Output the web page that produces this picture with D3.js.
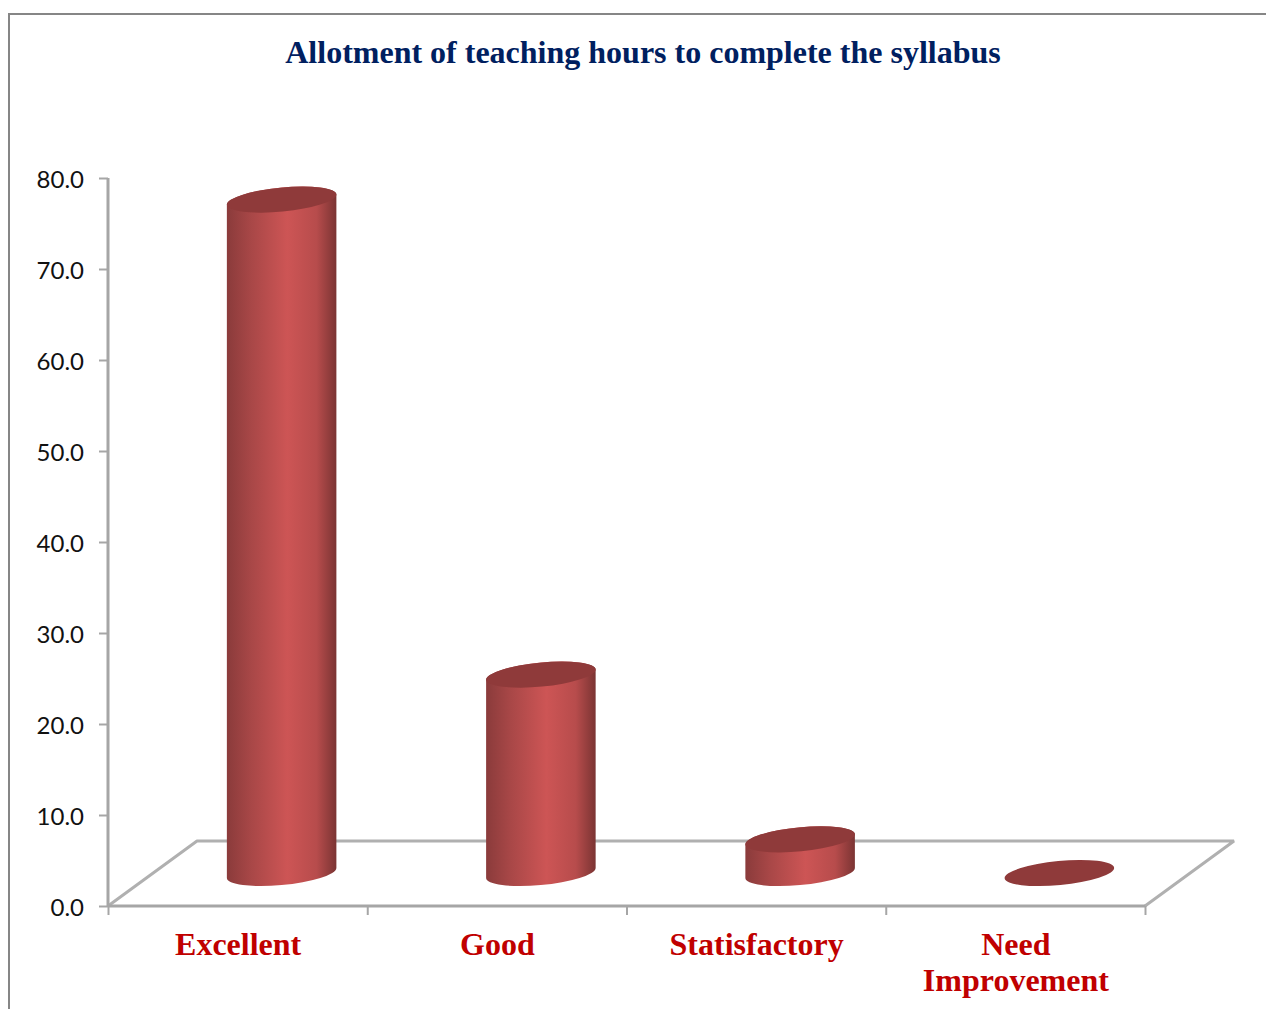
<!DOCTYPE html>
<html>
<head>
<meta charset="utf-8">
<script src="https://cdn.jsdelivr.net/npm/d3@7"></script>
<style>
  html, body { margin: 0; padding: 0; background: #fff; overflow: hidden; }
  svg { display: block; }
</style>
</head>
<body>
<div id="chart"></div>
<script>
const width = 1266;
const height = 1009;

// data
const categories = ["Excellent", "Good", "Statisfactory", "Need Improvement"];
const values = [74.0, 21.8, 3.7, 0];
const yTicks = [0, 10, 20, 30, 40, 50, 60, 70, 80];

// plot box + 3d floor offset
const plotLeft = 108, plotRight = 1145, plotTop = 178, plotBottom = 906;
const depthX = 89, depthY = 65;
const barShiftX = 44, barShiftY = 33;

// cylinder ellipse, edgeX/edgeY = where the sides touch it
const rx = 55, ry = 12, tilt = -5.5;
const rad = tilt * Math.PI / 180;
const edgeX = Math.sqrt(rx * rx * Math.cos(rad) ** 2 + ry * ry * Math.sin(rad) ** 2);
const edgeY = (rx * rx - ry * ry) * Math.sin(-rad) * Math.cos(rad) / edgeX;

const svg = d3.select("#chart")
    .append("svg")
    .attr("width", width)
    .attr("height", height)
    .attr("viewBox", `0 0 ${width} ${height}`);

const y = d3.scaleLinear().domain([0, 80]).range([plotBottom, plotTop]);
const x = d3.scaleBand().domain(categories).range([plotLeft, plotRight]);
const xEdges = d3.scaleLinear().domain([0, categories.length]).range([plotLeft, plotRight]);

// gradient of the cylinder side
const grad = svg.append("defs").append("linearGradient")
    .attr("id", "side")
    .attr("x1", "0%").attr("x2", "100%")
    .attr("y1", "0%").attr("y2", "0%");
[["0%", "#8a3b3b"], ["22%", "#a84747"], ["55%", "#cd5555"], ["82%", "#b74c4c"], ["100%", "#7b3433"]]
    .forEach(s => grad.append("stop").attr("offset", s[0]).attr("stop-color", s[1]));

// outer frame, cut by the page edge
svg.append("path")
    .attr("d", `M9,${height} V14 H${width}`)
    .attr("fill", "none")
    .attr("stroke", "#868686")
    .attr("stroke-width", 2);

// title
svg.append("text")
    .attr("x", 643)
    .attr("y", 63)
    .attr("text-anchor", "middle")
    .attr("font-family", "'Liberation Serif', serif")
    .attr("font-weight", "bold")
    .attr("font-size", 32)
    .attr("fill", "#002060")
    .text("Allotment of teaching hours to complete the syllabus");

// floor
svg.append("path")
    .attr("d", `M${plotLeft},${plotBottom} L${plotLeft + depthX},${plotBottom - depthY} H${plotRight + depthX} L${plotRight},${plotBottom}`)
    .attr("fill", "none")
    .attr("stroke", "#b0b0b0")
    .attr("stroke-width", 3)
    .attr("stroke-linejoin", "bevel");

// y axis
const yAxis = svg.append("g")
    .attr("transform", `translate(${plotLeft},0)`)
    .call(d3.axisLeft(y).tickValues(yTicks).tickFormat(d3.format(".1f")).tickSize(9).tickPadding(15));
yAxis.selectAll("text")
    .attr("font-family", "Lato, sans-serif")
    .attr("font-size", 24)
    .attr("fill", "#111")
    .attr("y", 2);

// x axis, ticks on the band edges
const xAxis = svg.append("g")
    .attr("transform", `translate(0,${plotBottom})`)
    .call(d3.axisBottom(xEdges).ticks(categories.length).tickFormat("").tickSize(9));

[yAxis, xAxis].forEach(g => {
    g.selectAll("line").attr("stroke", "#a6a6a6").attr("stroke-width", 2);
});
yAxis.select("path").attr("d", `M0,${plotTop}V${plotBottom}`).attr("stroke", "#a6a6a6").attr("stroke-width", 3);
xAxis.select("path").attr("d", `M${plotLeft},0H${plotRight}`).attr("stroke", "#a6a6a6").attr("stroke-width", 3);

// category labels
const labels = svg.selectAll(".label")
    .data(categories)
    .enter()
    .append("text")
    .attr("class", "label")
    .attr("text-anchor", "middle")
    .attr("font-family", "'Liberation Serif', serif")
    .attr("font-weight", "bold")
    .attr("font-size", 32)
    .attr("fill", "#c00000")
    .attr("y", 955);

labels.each(function(d) {
    const text = d3.select(this);
    d.split(" ").forEach((word, i) => {
        text.append("tspan")
            .attr("x", x(d) + x.bandwidth() / 2 + 0.5)
            .attr("dy", i ? 36 : 0)
            .text(word);
    });
});

// cylinders
const bars = svg.selectAll(".bar")
    .data(categories.map((c, i) => ({ name: c, value: values[i] })))
    .enter()
    .append("g")
    .attr("class", "bar")
    .attr("transform", d => `translate(${x(d.name) + x.bandwidth() / 2 + barShiftX},0)`);

bars.filter(d => d.value > 0)
    .append("path")
    .attr("fill", "url(#side)")
    .attr("d", d => {
        const yTop = y(d.value) - barShiftY;
        const yBase = y(0) - barShiftY;
        return `M${-edgeX},${yTop + edgeY} L${-edgeX},${yBase + edgeY}` +
            ` A${rx},${ry} ${tilt} 0 0 ${edgeX},${yBase - edgeY}` +
            ` L${edgeX},${yTop - edgeY}` +
            ` A${rx},${ry} ${tilt} 0 0 ${-edgeX},${yTop + edgeY} Z`;
    });

bars.append("ellipse")
    .attr("rx", rx)
    .attr("ry", ry)
    .attr("fill", "#8f3a3a")
    .attr("transform", d => `translate(0,${y(d.value) - barShiftY}) rotate(${tilt})`);
</script>
</body>
</html>
